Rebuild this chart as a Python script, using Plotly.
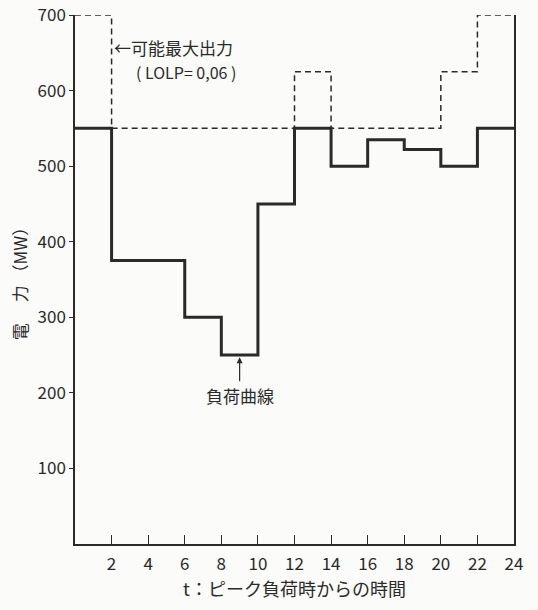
import plotly.graph_objects as go

# Time edges (hours after peak) and step values (MW)
load_t = [0, 2, 6, 8, 10, 12, 14, 16, 18, 20, 22, 24]
load_mw = [550, 375, 300, 250, 450, 550, 500, 535, 522, 500, 550]

cap_t = [0, 2, 12, 14, 20, 22, 24]
cap_mw = [700, 550, 625, 550, 625, 700]

x_ticks = [2, 4, 6, 8, 10, 12, 14, 16, 18, 20, 22, 24]
y_ticks = [100, 200, 300, 400, 500, 600, 700]

INK = "#2a2a2a"
FONT = "Noto Sans CJK JP"

fig = go.Figure()
fig.add_trace(go.Scatter(
    x=cap_t, y=cap_mw + [cap_mw[-1]], mode="lines", line_shape="hv",
    line=dict(color=INK, width=1.5, dash="6px,4px"), cliponaxis=False,
    hoverinfo="skip", showlegend=False))
fig.add_trace(go.Scatter(
    x=load_t, y=load_mw + [load_mw[-1]], mode="lines", line_shape="hv",
    line=dict(color=INK, width=3), cliponaxis=False,
    hoverinfo="skip", showlegend=False))

fig.add_annotation(x=cap_t[1], y=657, xanchor="left", yanchor="middle",
                   text="←可能最大出力", showarrow=False,
                   font=dict(size=17, color=INK, family=FONT))
fig.add_annotation(x=cap_t[1] + 1.2, y=624, xanchor="left", yanchor="middle",
                   text="( LOLP= 0,06 )", showarrow=False,
                   font=dict(size=16, color=INK, family=FONT))
fig.add_annotation(x=(load_t[3] + load_t[4]) / 2, y=load_mw[3] - 3,
                   text="負荷曲線", showarrow=True, arrowhead=2, arrowsize=1,
                   arrowwidth=1.2, arrowcolor=INK, ax=0, ay=24,
                   yanchor="top", font=dict(size=17, color=INK, family=FONT))

fig.update_layout(
    width=538, height=610,
    margin=dict(l=75, r=24, t=15, b=66, autoexpand=False),
    paper_bgcolor="#fbfbfa", plot_bgcolor="#fbfbfa",
    font=dict(family=FONT, color=INK),
    xaxis=dict(range=[0, 24], tickvals=x_ticks, ticks="inside", ticklen=9,
               tickwidth=1.2, tickcolor=INK, showline=True, linecolor=INK,
               linewidth=1.5, showgrid=False, zeroline=False, automargin=False,
               tickfont=dict(size=17, color=INK), ticklabelstandoff=4,
               ticklabeloverflow="allow",
               title=dict(text="t：ピーク負荷時からの時間",
                          font=dict(size=18, color=INK), standoff=2)),
    yaxis=dict(range=[0, 700], tickvals=y_ticks, ticks="outside", ticklen=4,
               tickwidth=1.2, tickcolor=INK, showline=True, mirror=True,
               linecolor=INK, linewidth=1.5, showgrid=False, zeroline=False,
               automargin=False, ticklabeloverflow="allow",
               tickfont=dict(size=17, color=INK), ticklabelstandoff=0,
               title=dict(text="電　 力 （MW）",
                          font=dict(size=17, color=INK), standoff=6)),
)

fig.write_html("out.html", config={"displayModeBar": False},
               post_script="document.body.style.margin='0';document.body.style.padding='0';")
